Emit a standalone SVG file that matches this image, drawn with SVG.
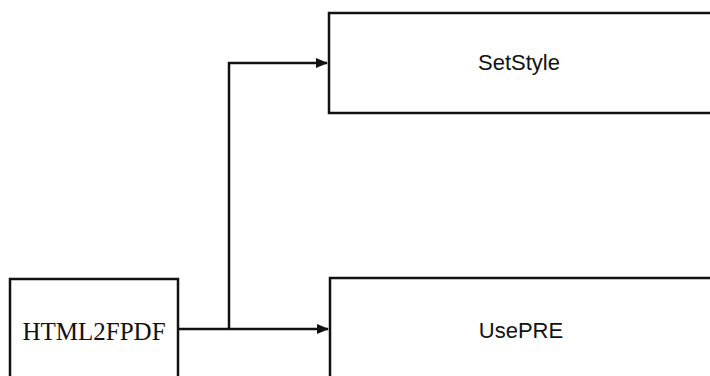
<svg xmlns="http://www.w3.org/2000/svg" width="710" height="376" viewBox="0 0 710 376">
<defs>
<style>
.box{fill:#fff;stroke:#111;stroke-width:2.5}
.lbl{font-family:"Liberation Sans",Arial,sans-serif;font-size:22px;fill:#111;text-anchor:middle}
.ser{font-family:"Liberation Serif","Times New Roman",serif;font-size:25px;fill:#111;text-anchor:middle}
.con{fill:none;stroke:#111;stroke-width:2.5}
</style>
<marker id="ah" markerWidth="12" markerHeight="10" refX="11" refY="5" orient="auto" markerUnits="userSpaceOnUse" viewBox="0 0 12 10">
<path d="M0,0 L12,5 L0,10 z" fill="#111"/>
</marker>
</defs>
<rect width="710" height="376" fill="#fff"/>
<g id="HTML2FPDF">
<rect class="box" x="10" y="279" width="168" height="110"/>
<text class="ser" x="94" y="340">HTML2FPDF</text>
</g>
<g id="SetStyle">
<rect class="box" x="329" y="13" width="400" height="100"/>
<text class="lbl" x="519" y="70">SetStyle</text>
</g>
<g id="UsePRE">
<rect class="box" x="330" y="278" width="400" height="110"/>
<text class="lbl" x="521" y="338">UsePRE</text>
</g>
<g id="connectors">
<path class="con" d="M178,329 L328,329" marker-end="url(#ah)"/>
<path class="con" d="M229,329 L229,63 L327,63" marker-end="url(#ah)"/>
</g>
</svg>
